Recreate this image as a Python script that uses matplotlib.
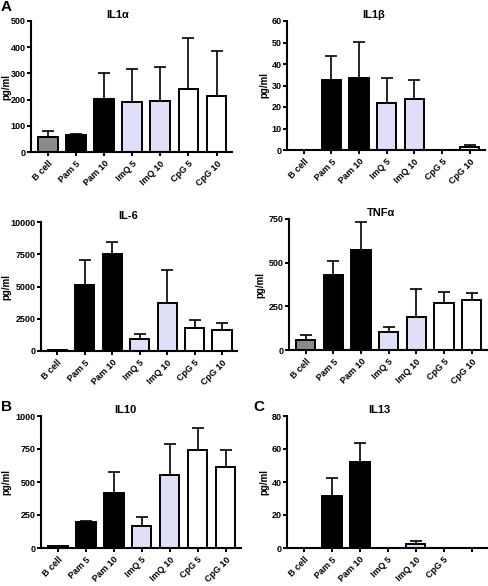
import numpy as np
import matplotlib.pyplot as plt

plt.rcParams['font.family'] = ['Liberation Sans', 'DejaVu Sans']
plt.rcParams['font.weight'] = 'bold'

# categories
groups = ['B cell', 'Pam 5', 'Pam 10', 'ImQ 5', 'ImQ 10', 'CpG 5', 'CpG 10']

# mean values (pg/ml) and upper error (SEM)
il1a = [58, 66, 201, 189, 195, 242, 215]
il1a_err = [24, 1, 99, 127, 128, 193, 170]
il1b = [0, 32.7, 33.5, 21.9, 23.9, 0, 1.4]
il1b_err = [0, 11.2, 16.9, 11.6, 8.8, 0, 0.9]
il6 = [100, 5130, 7540, 930, 3730, 1810, 1660]
il6_err = [0, 1890, 880, 420, 2570, 630, 490]
tnfa = [57, 429, 571, 102, 188, 270, 289]
tnfa_err = [28, 80, 160, 27, 160, 60, 40]
il10 = [15, 197, 420, 170, 552, 742, 615]
il10_err = [0, 6, 155, 63, 233, 164, 127]
il13 = [0, 31.4, 52.2, 0, 2.2, 0, 0]
il13_err = [0, 11.3, 11.6, 0, 2.1, 0, 0]

colors = ['#8a8a8a', 'black', 'black', '#dfe0f8', '#dfe0f8', 'white', 'white']

W, H = 488, 586
fig = plt.figure(figsize=(W / 100, H / 100), dpi=100)

def add_ax(l, r, t, b):
    return fig.add_axes([l / W, 1 - b / H, (r - l) / W, (b - t) / H])

# (title, values, err, ymax, step, pixel box, title x, ylabel x, letter, letter pos, xlabels)
panels = [
    ('IL1α', il1a, il1a_err, 500, 100, (31, 232, 21, 152), 118, 6, 'A', (1, 7), groups),
    ('IL1β', il1b, il1b_err, 60, 10, (287, 485, 21, 150), 374, 264, None, None, groups),
    ('IL-6', il6, il6_err, 10000, 2500, (41, 237, 222, 351), 128, 6, None, None, groups),
    ('TNFα', tnfa, tnfa_err, 750, 250, (289, 487, 219, 350), 381, 260, None, None, groups),
    ('IL10', il10, il10_err, 1000, 250, (41, 241, 416, 548), 125, 6, 'B', (1, 407), groups),
    ('IL13', il13, il13_err, 80, 20, (287, 487, 416, 548), 379, 264, 'C', (253, 407), groups[:6] + ['']),
]

for title, vals, err, ymax, step, box, tx, ylx, letter, lpos, xl in panels:
    ax = add_ax(*box)
    x = np.arange(len(vals))
    ax.bar(x, vals, width=0.7, color=colors, edgecolor='black', linewidth=1.4, zorder=2)
    ax.errorbar(x, vals, yerr=[np.zeros(len(vals)), err], fmt='none',
                ecolor='black', elinewidth=1.2, capsize=4, capthick=1.2, zorder=1)
    ax.set_xlim(-0.6, 6.55)
    ax.set_ylim(0, ymax)
    ax.set_yticks(np.arange(0, ymax + step / 2, step))
    ax.set_xticks(x)
    ax.set_xticklabels(xl, rotation=45, ha='right', rotation_mode='anchor', fontsize=6.5)
    ax.tick_params(axis='y', labelsize=6.5, length=3, width=1.4, pad=1)
    ax.tick_params(axis='x', length=3, width=1.4, pad=2)
    for s in ['top', 'right']:
        ax.spines[s].set_visible(False)
    for s in ['left', 'bottom']:
        ax.spines[s].set_linewidth(1.5)
    ax.set_title(title, fontsize=8, fontweight='bold', pad=2,
                 x=(tx - box[0]) / (box[1] - box[0]))
    ax.set_ylabel('pg/ml', fontsize=7, fontweight='bold', va='center')
    ax.yaxis.set_label_coords((ylx - box[0]) / (box[1] - box[0]), 0.5)
    if letter:
        fig.text(lpos[0] / W, 1 - lpos[1] / H, letter, fontsize=11,
                 fontweight='bold', va='center', ha='left')

fig.savefig('out.png', dpi=100)
